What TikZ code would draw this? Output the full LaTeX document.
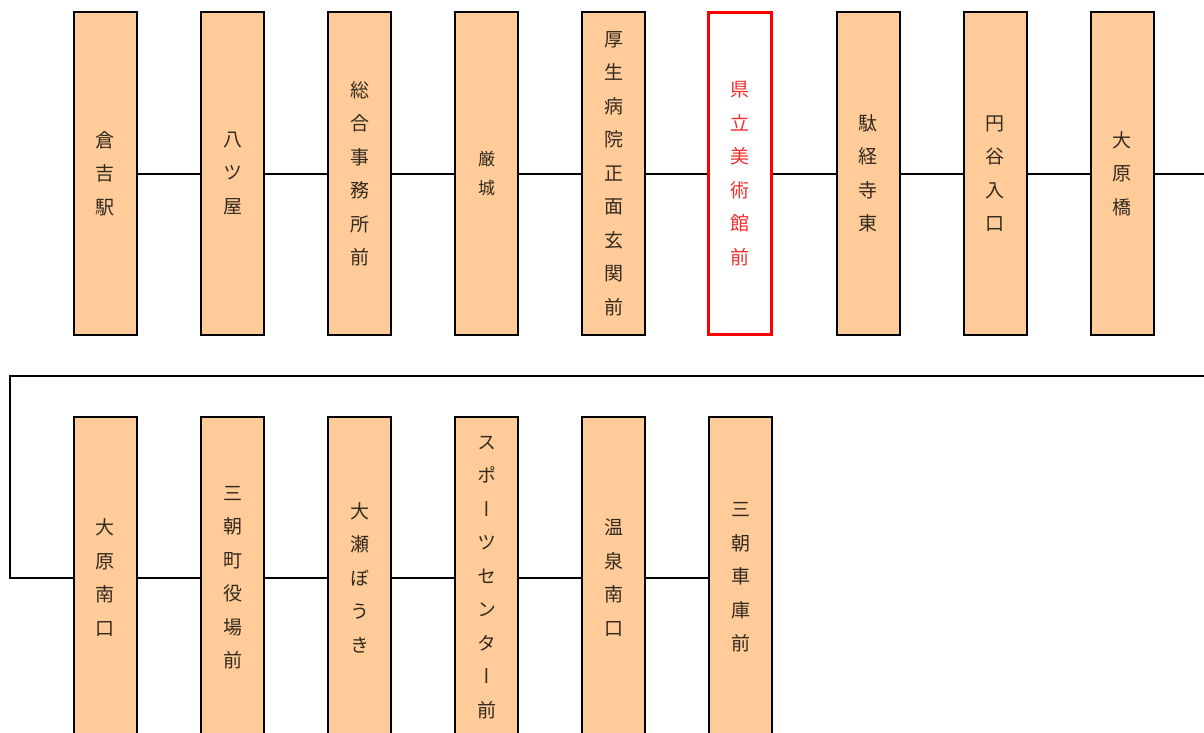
\documentclass[tikz,border=0pt]{standalone}
\usepackage{fontspec}
\setmainfont{Noto Sans CJK JP}[RawFeature={+vert}]
\usetikzlibrary{positioning}
\definecolor{stopcolor}{RGB}{255,204,153}
\definecolor{bordercolor}{RGB}{0,0,0}
\definecolor{labelcolor}{RGB}{51,41,31}
\definecolor{herecolor}{RGB}{255,0,0}
\definecolor{heretext}{RGB}{245,45,45}
\tikzset{
    stopbox/.style={
        rectangle,
        minimum width=63pt,
        minimum height=322pt,
        inner sep=0pt,
        align=center,
        draw=bordercolor,
        line width=2pt,
        fill=stopcolor,
        text=labelcolor,
        font=\fontsize{19pt}{33.5pt}\selectfont
    },
    smallstop/.style={stopbox, font=\fontsize{17pt}{29pt}\selectfont},
    herebox/.style={stopbox, draw=herecolor, line width=3pt, fill=white, text=heretext},
    route/.style={line width=2pt, color=bordercolor}
}
\begin{document}
\begin{tikzpicture}[x=1pt, y=-1pt]
    \clip (0,0) rectangle (1204,733);
    \fill[white] (0,0) rectangle (1204,733);

    % First row
    \node[stopbox] (kurayoshi) at (105,173.5) {倉\\吉\\駅};
    \node[stopbox] (yatsuya) at (232.5,173.5) {八\\ツ\\屋};
    \node[stopbox] (sogo) at (359.5,173.5) {総\\合\\事\\務\\所\\前};
    \node[smallstop] (iwaki) at (486.5,173.5) {厳\\城};
    \node[stopbox] (kosei) at (613.5,173.5) {厚\\生\\病\\院\\正\\面\\玄\\関\\前};
    \node[herebox] (bijutsukan) at (740,173.5) {県\\立\\美\\術\\館\\前};
    \node[stopbox] (dakyoji) at (868,173.5) {駄\\経\\寺\\東};
    \node[stopbox] (entani) at (995,173.5) {円\\谷\\入\\口};
    \node[stopbox] (oharabashi) at (1122,173.5) {大\\原\\橋};

    % Second row
    \node[stopbox] (oharaminami) at (105,577.5) {大\\原\\南\\口};
    \node[stopbox] (yakuba) at (232.5,577.5) {三\\朝\\町\\役\\場\\前};
    \node[stopbox] (osebouki) at (359.5,577.5) {大\\瀬\\ぼ\\う\\き};
    \node[stopbox] (sports) at (486.5,577.5) {ス\\ポ\\ー\\ツ\\セ\\ン\\タ\\ー\\前};
    \node[stopbox] (onsen) at (613.5,577.5) {温\\泉\\南\\口};
    \node[stopbox] (shako) at (740.5,577.5) {三\\朝\\車\\庫\\前};

    % Route
    \coordinate (turnR) at (1260,376);
    \coordinate (turnL) at (10,376);
    \draw[route] (kurayoshi) -- (yatsuya);
    \draw[route] (yatsuya) -- (sogo);
    \draw[route] (sogo) -- (iwaki);
    \draw[route] (iwaki) -- (kosei);
    \draw[route] (kosei) -- (bijutsukan);
    \draw[route] (bijutsukan) -- (dakyoji);
    \draw[route] (dakyoji) -- (entani);
    \draw[route] (entani) -- (oharabashi);
    \draw[route] (oharabashi) -| (turnR) -- (turnL) |- (oharaminami);
    \draw[route] (oharaminami) -- (yakuba);
    \draw[route] (yakuba) -- (osebouki);
    \draw[route] (osebouki) -- (sports);
    \draw[route] (sports) -- (onsen);
    \draw[route] (onsen) -- (shako);
\end{tikzpicture}
\end{document}
